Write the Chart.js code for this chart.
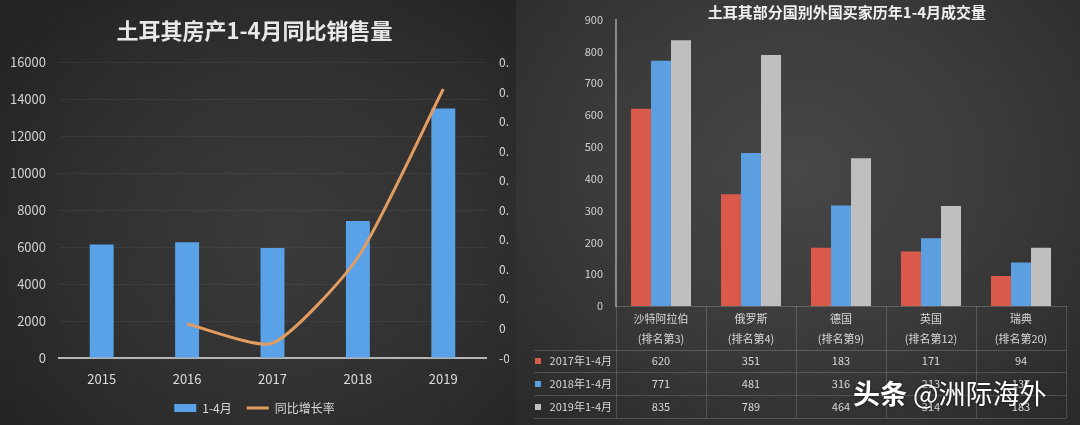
<!DOCTYPE html>
<html><head><meta charset="utf-8">
<script src="https://cdn.jsdelivr.net/npm/chart.js@4.4.1/dist/chart.umd.min.js"></script>
<style>
html,body{margin:0;padding:0;width:1080px;height:425px;overflow:hidden;background:#2b2b2b;}
#left{position:absolute;left:0;top:0;width:516px;height:425px;background:radial-gradient(ellipse 70% 75% at 55% 55%, #3b3b3b 0%, #303030 55%, #232323 100%);}
#right{position:absolute;left:516px;top:0;width:564px;height:425px;background:radial-gradient(ellipse 70% 80% at 50% 40%, #474747 0%, #3b3b3b 50%, #2a2a2a 100%);}
#c1{position:absolute;left:0;top:0;}
#c2{position:absolute;left:514px;top:0;}
#rtitle{position:absolute;left:697px;top:1px;width:300px;text-align:center;font:bold 15px 'Noto Sans CJK SC',sans-serif;color:#f0f0f0;white-space:nowrap;}
#wm{position:absolute;left:853px;top:373px;font:27px 'Noto Sans CJK SC',sans-serif;color:#fff;white-space:nowrap;text-shadow:0 0 3px rgba(0,0,0,0.6);}
#wm b{font-weight:bold;}
</style></head>
<body>
<div id="left"></div><div id="right"></div>
<canvas id="c1" width="509" height="425"></canvas>
<canvas id="c2" width="566" height="425"></canvas>
<div id="rtitle">土耳其部分国别外国买家历年1-4月成交量</div>
<div id="wm"><b>头条</b> @洲际海外</div>
<script>
// ---- left chart data ----
const years = ['2015', '2016', '2017', '2018', '2019'];
const sales = [6150, 6270, 5950, 7420, 13500];
const growth = [null, 0.015, -0.05, 0.24, 0.81];
const rateTicks = ['-0.1', '0', '0.1', '0.2', '0.3', '0.4', '0.5', '0.6', '0.7', '0.8', '0.9'];
const leftTitle = '土耳其房产1-4月同比销售量';

// ---- right chart data ----
const countries = [['沙特阿拉伯', '(排名第3)'], ['俄罗斯', '(排名第4)'], ['德国', '(排名第9)'], ['英国', '(排名第12)'], ['瑞典', '(排名第20)']];
const seriesNames = ['2017年1-4月', '2018年1-4月', '2019年1-4月'];
const buyers2017 = [620, 351, 183, 171, 94];
const buyers2018 = [771, 481, 316, 213, 137];
const buyers2019 = [835, 789, 464, 314, 183];

const FAM = "'Noto Sans CJK SC', 'Noto Sans', sans-serif";
Chart.defaults.font.family = FAM;

new Chart(document.getElementById('c1'), {
  data: {
    labels: years,
    datasets: [
      { type: 'line', label: '同比增长率', data: growth, yAxisID: 'y1', borderColor: '#e39c60', backgroundColor: '#e39c60',
        borderWidth: 3, pointRadius: 0, tension: 0.2, pointStyle: 'line' },
      { type: 'bar', label: '1-4月', data: sales, yAxisID: 'y', backgroundColor: '#5aa2e8',
        barPercentage: 0.35, categoryPercentage: 0.8, pointStyle: 'rect' }
    ]
  },
  options: {
    responsive: false, animation: false,
    layout: { padding: { left: 0, right: 0, top: 0, bottom: 1 } },
    plugins: {
      title: { display: true, text: leftTitle, color: '#e8e8e8', font: { size: 22, weight: 'bold' }, padding: { top: 17, bottom: 19 } },
      legend: { position: 'bottom', reverse: true,
        labels: { usePointStyle: true, pointStyleWidth: 22, boxHeight: 8, color: '#d8d8d8', font: { size: 12 }, padding: 15 } },
      tooltip: { enabled: false }
    },
    scales: {
      x: { grid: { display: false, drawTicks: false }, border: { color: '#b5b5b5', width: 2 },
        ticks: { color: '#dcdcdc', font: { size: 13 }, padding: 13 }, afterFit(s) { s.height = 29; } },
      y: { position: 'left', min: 0, max: 16000,
        ticks: { stepSize: 2000, color: '#d2d2d2', font: { size: 13 }, padding: 13, callback: v => String(v) },
        grid: { color: 'rgba(255,255,255,0.06)', drawTicks: false }, border: { display: false },
        afterFit(s) { s.width = 59; } },
      y1: { position: 'right', min: -0.1, max: 0.9,
        ticks: { stepSize: 0.1, color: '#d8d8d8', font: { size: 12 }, padding: 13, callback: (v, i) => rateTicks[i] },
        grid: { display: false, drawTicks: false }, border: { display: false },
        afterFit(s) { s.width = 23; } }
    }
  }
});

const tablePlugin = {
  id: 'dataTable',
  afterDraw(chart) {
    const { ctx, chartArea: a, scales: { x } } = chart;
    const base = a.bottom;
    const n = chart.data.labels.length;
    const w = (a.right - a.left) / n;
    ctx.save();
    ctx.strokeStyle = 'rgba(255,255,255,0.16)';
    ctx.lineWidth = 1;
    const line = (x1, y1, x2, y2) => { ctx.beginPath(); ctx.moveTo(x1, y1); ctx.lineTo(x2, y2); ctx.stroke(); };
    for (let i = 0; i <= n; i++) {
      const xx = Math.round(x.getPixelForValue(0) - w / 2 + i * w) + 0.5;
      line(xx, base, xx, base + 112);
    }
    [44, 66, 89, 112].forEach(dy => line(20, Math.round(base + dy) + 0.5, a.right, Math.round(base + dy) + 0.5));
    ctx.font = '11px ' + FAM;
    ctx.textBaseline = 'middle';
    chart.data.datasets.forEach((ds, r) => {
      const y = base + 55 + r * 23;
      ctx.fillStyle = ds.backgroundColor;
      ctx.fillRect(21, y - 3, 6, 6);
      ctx.fillStyle = '#d8d8d8';
      ctx.textAlign = 'right';
      ctx.fillText(ds.label, 98, y);
      ctx.textAlign = 'center';
      ds.data.forEach((v, i) => ctx.fillText(String(v), x.getPixelForValue(i), y));
    });
    ctx.restore();
  }
};

new Chart(document.getElementById('c2'), {
  type: 'bar',
  data: {
    labels: countries,
    datasets: [
      { label: seriesNames[0], data: buyers2017, backgroundColor: '#d95a4b' },
      { label: seriesNames[1], data: buyers2018, backgroundColor: '#5c9fe0' },
      { label: seriesNames[2], data: buyers2019, backgroundColor: '#bfbfbf' }
    ]
  },
  options: {
    responsive: false, animation: false,
    datasets: { bar: { categoryPercentage: 0.667, barPercentage: 1 } },
    layout: { padding: { top: 10, right: 14, left: 0, bottom: 0 } },
    plugins: { legend: { display: false }, title: { display: false }, tooltip: { enabled: false } },
    scales: {
      x: { grid: { display: false, drawTicks: false }, border: { color: 'rgba(255,255,255,0.2)' },
        ticks: { color: '#d8d8d8', font: { size: 11, lineHeight: 1.8 }, padding: 3 },
        afterFit(s) { s.height = 119; } },
      y: { min: 0, max: 900, ticks: { stepSize: 100, color: '#d2d2d2', font: { size: 11 }, padding: 13 },
        grid: { display: false, drawTicks: false }, border: { color: '#8a8a8a', width: 2 },
        afterFit(s) { s.width = 102; } }
    }
  },
  plugins: [tablePlugin]
});
</script>
</body></html>
